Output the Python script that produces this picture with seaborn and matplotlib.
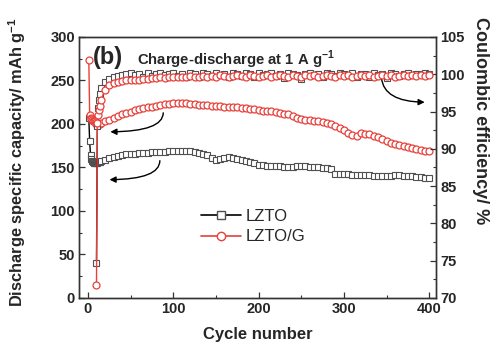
import numpy as np
import pandas as pd
import seaborn as sns
import matplotlib.pyplot as plt
from matplotlib.lines import Line2D
from matplotlib.ticker import MultipleLocator

sns.set_theme(style='ticks')
plt.rcParams['font.family'] = ['Liberation Sans', 'DejaVu Sans']

cycles = list(range(1, 16)) + list(range(20, 401, 5))

cap_lzto = [207, 180, 164, 160, 157.5, 156, 155.5, 155, 155, 155, 155.5, 156, 156, 156.5, 157,
            159, 161, 162, 163, 164, 165, 165.5, 166, 166.5, 167, 167, 167.5, 168, 168, 168, 168.5,
            168.5, 169, 169, 169, 168.5, 168, 167, 166, 164, 161, 159, 159.5, 160.5, 161.5, 161, 160,
            159, 157.5, 156.5, 155, 153, 152.5, 152, 152, 152, 151.5, 151, 151, 151, 152, 152,
            151.5, 151, 150.5, 150, 149.5, 149, 148, 143, 142, 142, 142, 141.5, 141.5, 141, 141,
            141, 140.5, 140.5, 140, 140, 140, 141, 141, 140.5, 140.5, 140, 139.5, 139, 138.5, 138]

cap_lztog = [274, 210, 207, 206, 205, 204, 204, 203, 202, 200, 200, 200, 200.5, 200.5, 201,
             203, 205, 207, 209, 211, 213, 214, 216, 217, 218, 219, 220, 221, 222, 223, 223.5,
             224, 224, 224, 224, 223.5, 223, 222, 222, 221.5, 221, 221, 220.5, 220, 220, 219.5, 219,
             218.5, 218, 217.5, 217, 216, 215.5, 215, 214.5, 214, 213, 212, 211, 209, 207, 205.5,
             205, 204.5, 204, 203, 202, 201, 199.5, 197.5, 195, 193, 190, 187, 186, 190, 189,
             188, 186.5, 185, 183, 181, 178, 176.5, 175.5, 174.5, 173.5, 172.5, 171.5, 170.5, 169.5, 168.5]

nan = np.nan
ce_lzto = [nan, nan, nan, nan, nan, nan, nan, nan, nan, 74.7, 93.0, 95.5, 96.5, 97.4, 98.2,
           99.0, 99.4, 99.6, 99.8, 99.9, 100.1, 100.2, 99.9, 100.1, 99.7, 100.2, 99.8, 100.1, 100.2, 99.9, 100.1,
           100.2, 99.8, 100.1, 99.6, 100.2, 100.0, 99.7, 100.2, 100.1, 99.8, 100.2, 99.9, 100.1, 99.6, 100.2, 100.0,
           99.8, 100.2, 100.1, 99.7, 100.2, 99.9, 100.1, 100.2, 99.8, 100.0, 99.5, 100.2, 100.1, 99.9, 99.4,
           100.1, 100.2, 99.9, 100.1, 99.6, 100.2, 100.0, 99.8, 100.2, 100.1, 99.9, 100.2, 99.7, 100.1, 100.0,
           99.6, 100.2, 99.9, 100.1, 99.5, 100.2, 100.0, 99.8, 100.1, 100.2, 99.9, 100.1, 100.0, 100.2, 100.1]

ce_lztog = [nan, nan, nan, nan, nan, nan, nan, nan, nan, 71.7, 93.5, 94.5, 95.2, 95.8, 96.5,
            97.9, 98.5, 98.8, 99.0, 99.1, 99.2, 99.2, 99.3, 99.3, 99.4, 99.4, 99.5, 99.5, 99.6, 99.5, 99.6,
            99.6, 99.7, 99.6, 99.7, 99.8, 99.7, 99.6, 99.8, 99.7, 99.8, 99.7, 99.9, 99.8, 99.7, 99.8, 99.9,
            99.8, 99.7, 99.9, 99.8, 99.6, 99.8, 99.9, 99.7, 99.8, 99.9, 99.8, 99.6, 99.9, 99.8, 99.7,
            99.9, 99.8, 99.9, 99.7, 99.8, 99.9, 99.8, 99.7, 99.9, 99.8, 99.9, 99.7, 99.8, 99.9, 99.8,
            99.9, 99.7, 99.8, 99.9, 99.8, 99.9, 99.7, 99.8, 99.9, 99.8, 99.9, 99.8, 99.9, 99.8, 99.9]

df = pd.DataFrame({'cycle': cycles, 'cap_lzto': cap_lzto, 'cap_lztog': cap_lztog,
                   'ce_lzto': ce_lzto, 'ce_lztog': ce_lztog})
df_ce = df.dropna(subset=['ce_lzto'])

RED = '#e8403a'
BLK = 'black'
MEC = '#505050'

fig = plt.figure(figsize=(5, 3.51), dpi=100)
ax = fig.add_axes([0.158, 0.151, 0.714, 0.7436])
ax2 = ax.twinx()

sq = dict(marker='s', markersize=4.8, markerfacecolor='white', markeredgecolor=MEC,
          markeredgewidth=0.8, linewidth=1.0, color=BLK, errorbar=None, sort=False)
ci = dict(marker='o', markersize=5.0, markerfacecolor='white', markeredgecolor=RED,
          markeredgewidth=0.9, linewidth=1.0, color=RED, errorbar=None, sort=False)

sns.lineplot(data=df, x='cycle', y='cap_lzto', ax=ax, zorder=2, **sq)
sns.lineplot(data=df, x='cycle', y='cap_lztog', ax=ax, zorder=3, **ci)
sns.lineplot(data=df_ce, x='cycle', y='ce_lzto', ax=ax2, zorder=2, **sq)
sns.lineplot(data=df_ce, x='cycle', y='ce_lztog', ax=ax2, zorder=3, **ci)

ax.set_xlim(-10.5, 408)
ax.set_ylim(0, 300)
ax2.set_ylim(70, 105)

ax.xaxis.set_major_locator(MultipleLocator(100))
ax.xaxis.set_minor_locator(MultipleLocator(50))
ax.yaxis.set_major_locator(MultipleLocator(50))
ax.yaxis.set_minor_locator(MultipleLocator(25))
ax2.yaxis.set_major_locator(MultipleLocator(5))
ax2.yaxis.set_minor_locator(MultipleLocator(2.5))

for a in (ax, ax2):
    a.tick_params(which='major', direction='in', length=4, width=0.9, labelsize=10.5, pad=3, color='#333')
    a.tick_params(which='minor', direction='in', length=2.2, width=0.8, color='#333')
    for s in a.spines.values():
        s.set_linewidth(1.0)
        s.set_color('#333')
ax.tick_params(top=False, which='both')
ax2.tick_params(top=False, which='both')
for lbl in ax.get_xticklabels() + ax.get_yticklabels() + ax2.get_yticklabels():
    lbl.set_fontweight('bold')

ax.set_xlabel('Cycle number', fontsize=12, fontweight='bold', labelpad=8)
ax.set_ylabel('Discharge specific capacity/ mAh g$^{\\mathregular{-1}}$', fontsize=11.8, fontweight='bold')
ax.yaxis.set_label_coords(-0.142, 0.52)
ax2.set_ylabel('Coulombic efficiency/ %', fontsize=13, fontweight='bold', rotation=270, va='bottom')
ax2.yaxis.set_label_coords(1.1, 0.68)

ax.text(0.04, 0.922, '(b)', transform=ax.transAxes, fontsize=17, fontweight='bold', va='center', ha='left')
ax.text(0.162, 0.912, 'Charge-discharge at 1 A g$^{\\mathregular{-1}}$', transform=ax.transAxes,
        fontsize=10.7, fontweight='bold', va='center', ha='left')

arrow = dict(arrowstyle='-|>', color='black', lw=1.0, mutation_scale=9)
ax.annotate('', xy=(23, 191), xytext=(88, 216),
            arrowprops=dict(connectionstyle='angle3,angleA=100,angleB=0', **arrow))
ax.annotate('', xy=(22, 136), xytext=(84, 161),
            arrowprops=dict(connectionstyle='angle3,angleA=100,angleB=0', **arrow))
ax.annotate('', xy=(398, 225), xytext=(344, 256),
            arrowprops=dict(connectionstyle='angle3,angleA=90,angleB=0', **arrow))

handles = [Line2D([0], [0], color=BLK, marker='s', markerfacecolor='white', markeredgecolor=MEC,
                  markersize=5.5, lw=1.2, label='LZTO'),
           Line2D([0], [0], color=RED, marker='o', markerfacecolor='white', markeredgecolor=RED,
                  markersize=6, lw=1.2, label='LZTO/G')]
ax.legend(handles=handles, frameon=False, loc='upper left', bbox_to_anchor=(0.3, 0.4),
          fontsize=12, handlelength=2.4, handletextpad=0.3, labelspacing=0.35)

fig.savefig('out.png', dpi=100)
